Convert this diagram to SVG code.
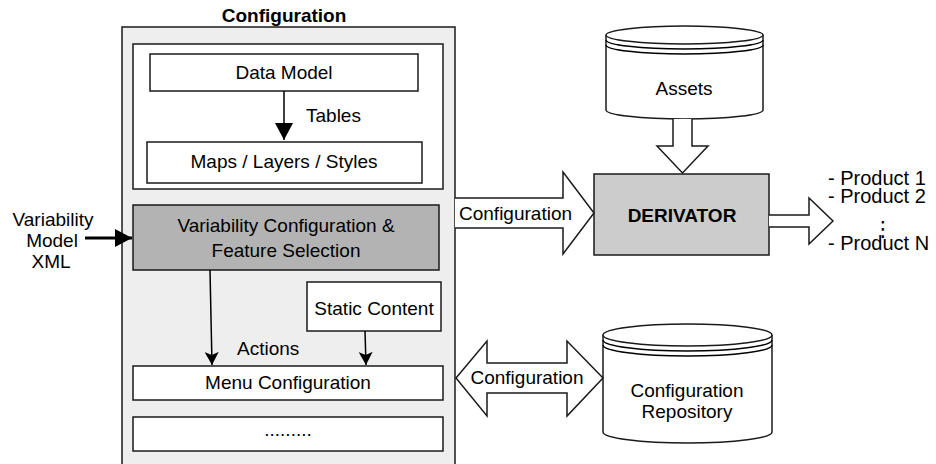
<svg xmlns="http://www.w3.org/2000/svg" width="936" height="464" viewBox="0 0 936 464">
<style>
text{font-family:"Liberation Sans",Arial,Helvetica,sans-serif;font-size:19px;fill:#000}
.c{text-anchor:middle}
.b{font-weight:bold}
.box{fill:#fff;stroke:#1a1a1a;stroke-width:1.5}
.blk{fill:#fff;stroke:#1a1a1a;stroke-width:1.5;stroke-linejoin:miter}
.ln{fill:none;stroke:#000;stroke-width:1.5}
.p{font-size:20px}
</style>
<defs>
<marker id="hl" markerUnits="userSpaceOnUse" markerWidth="18" markerHeight="18" refX="17" refY="9" orient="auto"><path d="M0,0 L17,9 L0,18 z" fill="#000"/></marker>
<marker id="hs" markerUnits="userSpaceOnUse" markerWidth="14" markerHeight="14" refX="13" refY="7" orient="auto"><path d="M0,0 L13,7 L0,14 L3,7 z" fill="#000"/></marker>
</defs>
<g id="configuration">
<rect x="122" y="27" width="333" height="445" fill="#eeeeee" stroke="#1a1a1a" stroke-width="1.5"/>
<text class="c b" x="284" y="22">Configuration</text>
</g>
<g id="data-group"><rect class="box" x="133" y="44" width="310" height="145"/></g>
<g id="data-model"><rect class="box" x="150" y="54" width="268" height="37"/><text class="c" x="284" y="79">Data Model</text></g>
<g id="maps"><rect class="box" x="147" y="142" width="275" height="41"/><text class="c" x="284" y="168">Maps / Layers / Styles</text></g>
<g id="variability-config"><rect x="133" y="205" width="306" height="65" fill="#b3b3b3" stroke="#1a1a1a" stroke-width="1.5"/><text class="c" x="286" y="232">Variability Configuration &amp;</text><text class="c" x="286" y="257">Feature Selection</text></g>
<g id="static-content"><rect class="box" x="307" y="282" width="134" height="49"/><text class="c" x="374" y="315">Static Content</text></g>
<g id="menu-config"><rect class="box" x="133" y="366" width="310" height="34"/><text class="c" x="288" y="389">Menu Configuration</text></g>
<g id="more"><rect class="box" x="133" y="417" width="310" height="34"/><text class="c" x="288" y="436">.........</text></g>
<g id="variability-model"><text class="c" x="53" y="226">Variability</text><text class="c" x="52" y="247">Model</text><text class="c" x="51" y="268">XML</text></g>
<g id="assets">
<path d="M606,35 V110 A78.5,9 0 0 0 763,110 V35" fill="#fff" stroke="#1a1a1a" stroke-width="1.5"/>
<ellipse cx="684.5" cy="35" rx="78.5" ry="9" fill="#fff" stroke="#1a1a1a" stroke-width="1.5"/>
<path class="ln" d="M606,40 A78.5,9 0 0 0 763,40 M606,45 A78.5,9 0 0 0 763,45" stroke="#1a1a1a"/>
<text class="c" x="684" y="95">Assets</text>
</g>
<g id="derivator"><rect x="594" y="174" width="175" height="81" fill="#cccccc" stroke="#1a1a1a" stroke-width="1.5"/><text class="c b" x="682" y="222">DERIVATOR</text></g>
<g id="config-repo">
<path d="M603,335 V432 A84.5,11 0 0 0 772,432 V335" fill="#fff" stroke="#1a1a1a" stroke-width="1.5"/>
<ellipse cx="687.5" cy="335" rx="84.5" ry="11" fill="#fff" stroke="#1a1a1a" stroke-width="1.5"/>
<path class="ln" d="M603,340 A84.5,11 0 0 0 772,340 M603,345 A84.5,11 0 0 0 772,345" stroke="#1a1a1a"/>
<text class="c" x="687" y="397">Configuration</text>
<text class="c" x="687" y="418">Repository</text>
</g>
<g id="products">
<text class="p" x="828" y="185">- Product 1</text>
<text class="p" x="828" y="203">- Product 2</text>
<text class="c" x="883" y="236" style="font-family:'DejaVu Sans',sans-serif;font-size:21px">⋮</text>
<text class="p" x="828" y="250">- Product N</text>
</g>
<g id="connectors">
<line class="ln" x1="284" y1="91" x2="284" y2="140" marker-end="url(#hl)"/>
<text x="306" y="122">Tables</text>
<line x1="85" y1="238" x2="132" y2="238" stroke="#000" stroke-width="3" marker-end="url(#hl)"/>
<line class="ln" x1="210" y1="270" x2="212" y2="365" marker-end="url(#hs)"/>
<text x="237" y="355">Actions</text>
<line class="ln" x1="365" y1="331" x2="366" y2="365" marker-end="url(#hs)"/>
<path class="blk" d="M455,198 H563 V172 L594,213 L563,254 V228 H455"/>
<text x="459" y="220">Configuration</text>
<path class="blk" d="M673,119 V146 H657 L682.5,173 L708,146 H692 V119"/>
<path class="blk" d="M769,215 H809 V198 L833,221 L809,244 V227 H769"/>
<path class="blk" d="M456,378 L487,341 V363 H567 V341 L603,378 L567,416 V393 H487 V416 Z"/>
<text class="c" x="527" y="384">Configuration</text>
</g>
</svg>
